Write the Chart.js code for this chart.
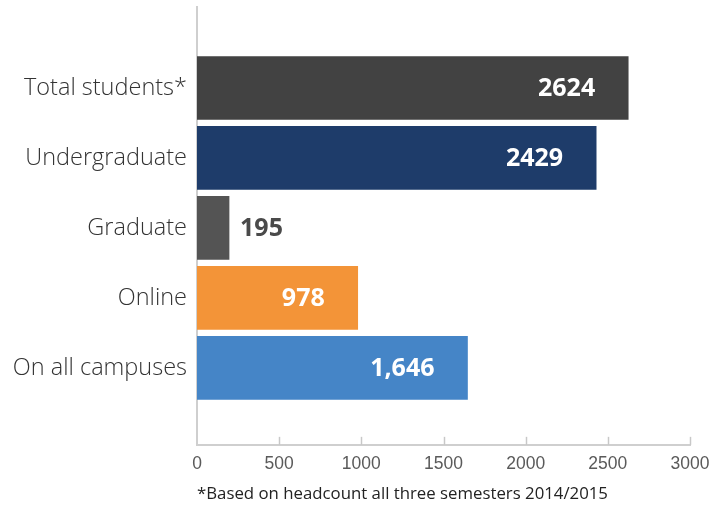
<!DOCTYPE html>
<html>
<head>
<meta charset="utf-8">
<script src="https://cdn.jsdelivr.net/npm/chart.js@4/dist/chart.umd.min.js"></script>
<style>
html,body{margin:0;padding:0;background:#fff;}
#wrap{width:715px;height:509px;}
</style>
</head>
<body>
<div id="wrap"><canvas id="c" width="715" height="509"></canvas></div>
<script>
const categories = ["Total students*", "Undergraduate", "Graduate", "Online", "On all campuses"];
const values = [2624, 2429, 195, 978, 1646];
const valueLabels = ["2624", "2429", "195", "978", "1,646"];
const barColors = ["#424242", "#1e3c6a", "#545454", "#f39438", "#4585c7"];
const xTicks = [0, 500, 1000, 1500, 2000, 2500, 3000];
const footnote = "*Based on headcount all three semesters 2014/2015";

const valueLabelPlugin = {
  id: 'valueLabels',
  afterDatasetsDraw(chart) {
    const ctx = chart.ctx;
    const meta = chart.getDatasetMeta(0);
    ctx.save();
    ctx.font = 'bold 25px "Open Sans"';
    ctx.textBaseline = 'middle';
    meta.data.forEach((bar, i) => {
      const inside = values[i] > 500;
      if (inside) {
        ctx.fillStyle = '#ffffff';
        ctx.textAlign = 'right';
        ctx.fillText(valueLabels[i], bar.x - 33, bar.y + 1);
      } else {
        ctx.fillStyle = '#4a4a4a';
        ctx.textAlign = 'left';
        ctx.fillText(valueLabels[i], bar.x + 11, bar.y + 1);
      }
    });
    ctx.restore();
  }
};

const tickMarkPlugin = {
  id: 'tickMarks',
  afterDraw(chart) {
    const ctx = chart.ctx;
    const xs = chart.scales.x;
    const bottom = chart.chartArea.bottom;
    ctx.save();
    ctx.strokeStyle = '#c8c8c8';
    ctx.lineWidth = 1.5;
    xs.ticks.forEach(t => {
      if (t.value === 0) return;
      const px = Math.round(xs.getPixelForValue(t.value)) + 0.5;
      ctx.beginPath();
      ctx.moveTo(px, bottom - 8);
      ctx.lineTo(px, bottom);
      ctx.stroke();
    });
    ctx.restore();
  }
};

new Chart(document.getElementById('c'), {
  type: 'bar',
  data: {
    datasets: [{
      data: values.map((v, i) => ({ x: v, y: i })),
      backgroundColor: barColors,
      borderWidth: 0,
      barThickness: 63
    }]
  },
  options: {
    indexAxis: 'y',
    responsive: false,
    devicePixelRatio: 1,
    animation: false,
    layout: { padding: { left: 0, right: 25, top: 7, bottom: 0 } },
    plugins: {
      legend: { display: false },
      tooltip: { enabled: false },
      title: {
        display: true,
        text: footnote,
        position: 'bottom',
        align: 'start',
        fullSize: false,
        color: '#222222',
        font: { family: '"Open Sans"', size: 16.8, weight: 'normal', lineHeight: 1.2 },
        padding: { top: 5, bottom: 5 }
      }
    },
    scales: {
      x: {
        type: 'linear',
        min: 0,
        max: 3000,
        afterBuildTicks: s => { s.ticks = xTicks.map(v => ({ value: v })); },
        afterFit: s => { s.height = 34; s.paddingLeft = 0; s.paddingRight = 0; },
        grid: { display: false, drawTicks: false },
        border: { display: true, color: '#cfcfcf', width: 2 },
        ticks: {
          color: '#5a5a5a',
          padding: 9,
          maxRotation: 0,
          callback: v => String(v),
          font: { family: '"Liberation Sans"', size: 17.5 }
        }
      },
      y: {
        type: 'linear',
        reverse: true,
        offset: false,
        min: -1.157,
        max: 5.1,
        afterBuildTicks: s => { s.ticks = categories.map((_, i) => ({ value: i })); },
        afterFit: s => { s.width = 197; s.paddingTop = 0; s.paddingBottom = 0; },
        grid: { display: false, drawTicks: false },
        border: { display: true, color: '#cfcfcf', width: 2 },
        ticks: {
          color: '#333333',
          padding: 10,
          autoSkip: false,
          callback: v => categories[v],
          font: { family: '"Open Sans"', size: 23.5, weight: 300 }
        }
      }
    }
  },
  plugins: [valueLabelPlugin, tickMarkPlugin]
});
</script>
</body>
</html>
